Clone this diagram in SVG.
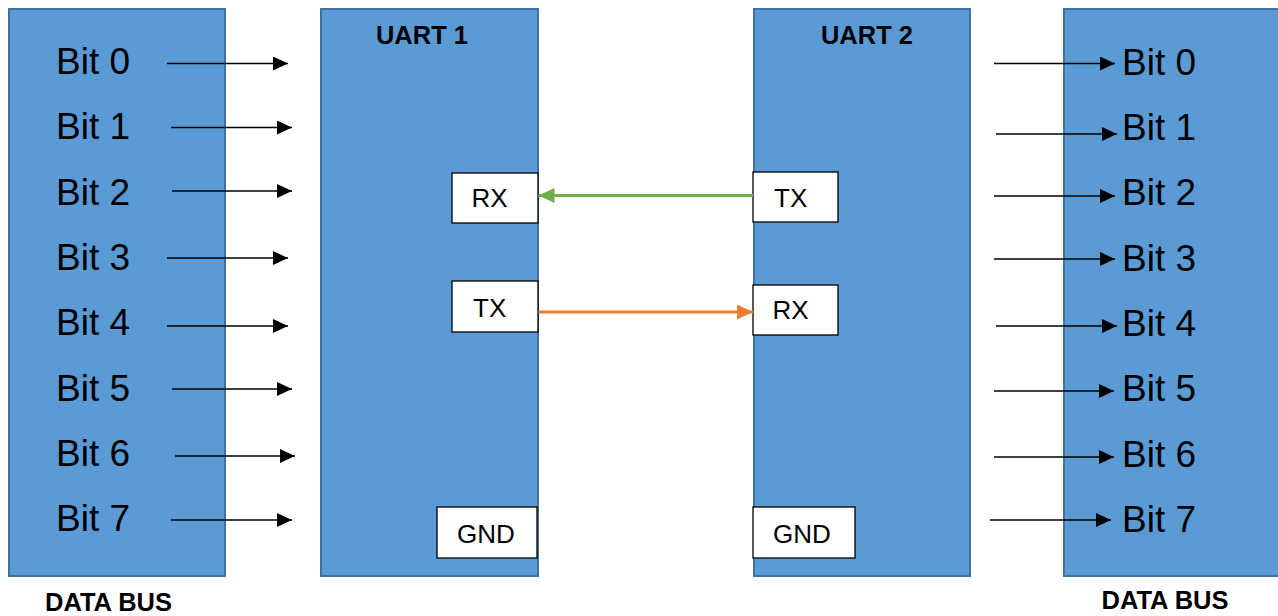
<svg xmlns="http://www.w3.org/2000/svg" width="1278" height="616" viewBox="0 0 1278 616">
<style>
.blk{fill:#5b9bd5;stroke:#41719c;stroke-width:2}
.port{fill:#ffffff;stroke:#000000;stroke-width:1.3}
.bit{font-family:"Liberation Sans",Arial,sans-serif;font-size:37px;fill:#000}
.ptxt{font-family:"Liberation Sans",Arial,sans-serif;font-size:26px;fill:#000}
.title{font-family:"Liberation Sans",Arial,sans-serif;font-size:25.5px;font-weight:bold;fill:#000}
.lbl{font-family:"Liberation Sans",Arial,sans-serif;font-size:25.5px;font-weight:bold;fill:#000}
.arr{stroke:#000;stroke-width:1.5;fill:none;marker-end:url(#ah)}
</style>
<defs>
<marker id="ah" markerUnits="userSpaceOnUse" markerWidth="16" markerHeight="15" refX="15" refY="7" orient="auto" viewBox="0 0 16 15">
<path d="M0,0 L15,7 L0,14 z" fill="#000"/>
</marker>
<marker id="ahg" markerUnits="userSpaceOnUse" markerWidth="17" markerHeight="16" refX="16" refY="7.5" orient="auto" viewBox="0 0 17 16">
<path d="M0,0 L16,7.5 L0,15 z" fill="#70ad47"/>
</marker>
<marker id="aho" markerUnits="userSpaceOnUse" markerWidth="17" markerHeight="16" refX="16" refY="7.5" orient="auto" viewBox="0 0 17 16">
<path d="M0,0 L16,7.5 L0,15 z" fill="#ed7d31"/>
</marker>
</defs>
<rect width="1278" height="616" fill="#ffffff"/>

<g id="databus-left">
<rect class="blk" x="9" y="9" width="216" height="567"/>
<text class="bit" x="56" y="74">Bit 0</text>
<text class="bit" x="56" y="139">Bit 1</text>
<text class="bit" x="56" y="204.5">Bit 2</text>
<text class="bit" x="56" y="270">Bit 3</text>
<text class="bit" x="56" y="335">Bit 4</text>
<text class="bit" x="56" y="400.5">Bit 5</text>
<text class="bit" x="56" y="466">Bit 6</text>
<text class="bit" x="56" y="531">Bit 7</text>
</g>
<text id="label-left" class="lbl" x="45" y="611">DATA BUS</text>

<g id="uart1">
<rect class="blk" x="321" y="9" width="217" height="567"/>
<text class="title" x="422" y="44" text-anchor="middle">UART 1</text>
</g>
<g id="uart1-rx">
<rect class="port" x="452" y="173" width="86" height="50"/>
<text class="ptxt" x="471.5" y="207">RX</text>
</g>
<g id="uart1-tx">
<rect class="port" x="452" y="281" width="86" height="51"/>
<text class="ptxt" x="473" y="316.5">TX</text>
</g>
<g id="uart1-gnd">
<rect class="port" x="437" y="507" width="100" height="51"/>
<text class="ptxt" x="457" y="542.5">GND</text>
</g>

<g id="uart2">
<rect class="blk" x="754" y="9" width="216" height="567"/>
<text class="title" x="867" y="44" text-anchor="middle">UART 2</text>
</g>
<g id="uart2-tx">
<rect class="port" x="753" y="172" width="85" height="50"/>
<text class="ptxt" x="774" y="206.5">TX</text>
</g>
<g id="uart2-rx">
<rect class="port" x="753" y="285" width="85" height="50"/>
<text class="ptxt" x="772.5" y="319">RX</text>
</g>
<g id="uart2-gnd">
<rect class="port" x="753" y="507" width="102" height="51"/>
<text class="ptxt" x="773" y="542.5">GND</text>
</g>

<g id="databus-right">
<rect class="blk" x="1064" y="9" width="220" height="567"/>
<text class="bit" x="1122" y="75">Bit 0</text>
<text class="bit" x="1122" y="140">Bit 1</text>
<text class="bit" x="1122" y="205">Bit 2</text>
<text class="bit" x="1122" y="270.5">Bit 3</text>
<text class="bit" x="1122" y="336">Bit 4</text>
<text class="bit" x="1122" y="401">Bit 5</text>
<text class="bit" x="1122" y="466.5">Bit 6</text>
<text class="bit" x="1122" y="532">Bit 7</text>
</g>
<text id="label-right" class="lbl" x="1101.5" y="609">DATA BUS</text>

<g id="connectors">
<line class="arr" x1="167" y1="63.5" x2="288" y2="63.5"/>
<line class="arr" x1="171" y1="127.5" x2="292" y2="127.5"/>
<line class="arr" x1="172" y1="191" x2="292" y2="191"/>
<line class="arr" x1="167" y1="258" x2="288" y2="258"/>
<line class="arr" x1="167" y1="326" x2="288" y2="326"/>
<line class="arr" x1="172" y1="389" x2="292" y2="389"/>
<line class="arr" x1="175" y1="456" x2="295" y2="456"/>
<line class="arr" x1="171" y1="520" x2="292" y2="520"/>

<line class="arr" x1="994" y1="63.5" x2="1115" y2="63.5"/>
<line class="arr" x1="996" y1="134" x2="1117" y2="134"/>
<line class="arr" x1="994" y1="196" x2="1115" y2="196"/>
<line class="arr" x1="994" y1="259" x2="1115" y2="259"/>
<line class="arr" x1="996" y1="326" x2="1117" y2="326"/>
<line class="arr" x1="994" y1="391" x2="1114" y2="391"/>
<line class="arr" x1="994" y1="457" x2="1114" y2="457"/>
<line class="arr" x1="990" y1="520" x2="1111" y2="520"/>

<line x1="753" y1="195.5" x2="538.5" y2="195.5" stroke="#70ad47" stroke-width="3" marker-end="url(#ahg)"/>
<line x1="538.5" y1="312" x2="753" y2="312" stroke="#ed7d31" stroke-width="3" marker-end="url(#aho)"/>
</g>
</svg>
